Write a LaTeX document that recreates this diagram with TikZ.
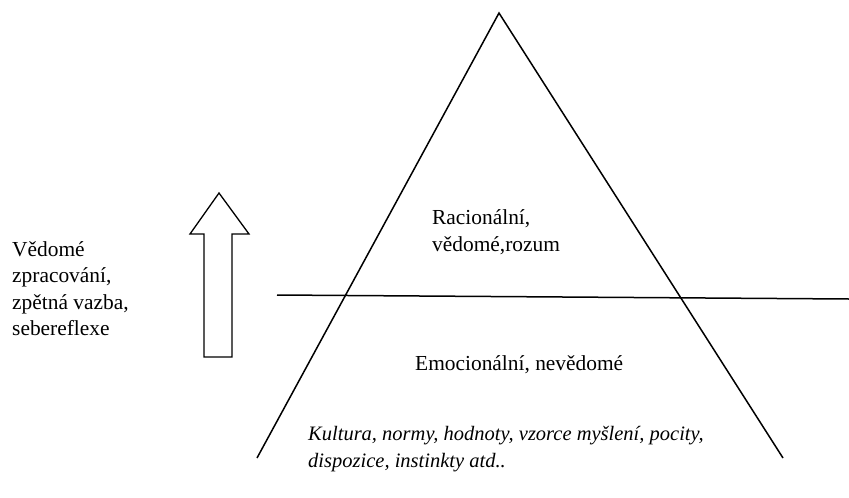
\documentclass[tikz,border=0pt]{standalone}
\usepackage{fontspec}
\setmainfont{Liberation Serif}
\tikzset{
  txt/.style={inner sep=0pt, anchor=base west, align=left,
    font=\fontsize{21.4}{26.5}\selectfont},
  ln/.style={line width=1.5pt, black},
}
\begin{document}
\begin{tikzpicture}[x=1pt,y=-1pt]
\useasboundingbox (0,0) rectangle (849,498);
% triangle
\coordinate (apex) at (499,13);
\coordinate (bl) at (257,458);
\coordinate (br) at (783,458);
\draw[ln] (bl) -- (apex) -- (br);
% dividing line
\coordinate (hl) at (277,295);
\coordinate (hr) at (849,299);
\draw[ln] (hl) -- (hr);
% hollow arrow
\draw[line width=1.3pt] (219,193) -- (249,234) -- (232,234) -- (232,357)
  -- (204,357) -- (204,234) -- (190,234) -- cycle;
% texts (base anchor = baseline of last line)
\node[txt] (left) at (12,335.5) {Vědomé\\zpracování,\\zpětná vazba,\\sebereflexe};
\node[txt] (rac) at (432,251) {Racionální,\\vědomé,rozum};
\node[txt] (emo) at (415,370) {Emocionální, nevědomé};
\node[txt, font=\fontsize{20.5}{27}\selectfont\itshape] (kul) at (308,467)
  {Kultura, normy, hodnoty, vzorce myšlení, pocity,\\dispozice, instinkty atd..};
\end{tikzpicture}
\end{document}
